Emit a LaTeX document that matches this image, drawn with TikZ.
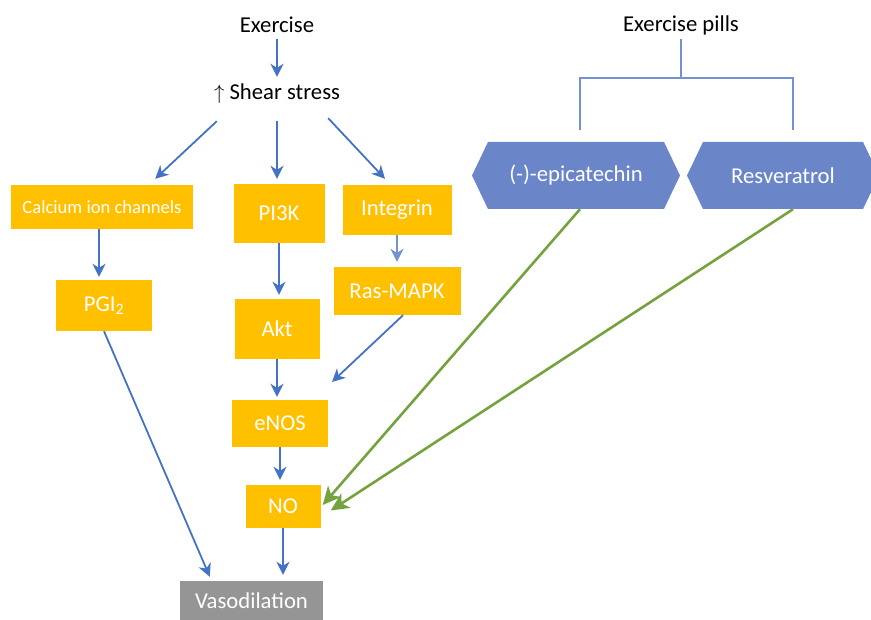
\documentclass[tikz,border=0pt]{standalone}
\usepackage{fontspec}
\setmainfont{Carlito}
\usetikzlibrary{arrows.meta, calc, shapes.symbols}
\definecolor{boxorange}{HTML}{FFC000}
\definecolor{arrowblue}{HTML}{4472C4}
\definecolor{bracketblue}{HTML}{7592D0}
\definecolor{pillfill}{HTML}{6A86C8}
\definecolor{pillgreen}{HTML}{74A33E}
\definecolor{vasogray}{HTML}{959595}
\tikzset{
    >={Stealth[length=13pt, width=13pt, inset=4pt]},
    flow/.style={->, draw=arrowblue, line width=1.8pt},
    pillflow/.style={draw=pillgreen, line width=2.6pt,
        -{Stealth[length=18pt, width=17pt, inset=5pt]}},
    bracket/.style={draw=bracketblue, line width=1.8pt},
    heading/.style={inner sep=0pt, minimum height=28pt, font=\fontsize{22.7}{26}\selectfont},
    stepbox/.style={fill=boxorange, text=white, inner sep=0pt, font=\fontsize{22.7}{26}\selectfont},
    smalltext/.style={font=\fontsize{18.6}{22}\selectfont},
    endbox/.style={stepbox, fill=vasogray},
    pillbox/.style={shape=signal, signal to=west and east, signal pointer angle=129,
        fill=pillfill, text=white, inner sep=0pt, minimum height=67pt,
        font=\fontsize{22.7}{26}\selectfont},
}
\begin{document}
\begin{tikzpicture}[x=1pt, y=-1pt]
    \useasboundingbox (0,0) rectangle (871,620);
    % exercise pathway
    \node[heading] (exercise) at (277,25) {Exercise};
    \node[heading, minimum height=54pt] (shear) at (277,94) {$\uparrow$ Shear stress};
    \node[stepbox, smalltext, minimum width=182pt, minimum height=44pt] (calcium) at (102,207) {Calcium ion channels};
    \node[stepbox, minimum width=91pt, minimum height=59pt] (pi3k) at (279,213.5) {PI3K};
    \node[stepbox, minimum width=109pt, minimum height=50pt] (integrin) at (397,210) {Integrin};
    \node[stepbox, minimum width=127pt, minimum height=48pt] (ras) at (397,291) {Ras-MAPK};
    \node[stepbox, minimum width=96pt, minimum height=51pt] (pgi) at (104,305.5) {PGI\textsubscript{2}};
    \node[stepbox, minimum width=85pt, minimum height=60pt] (akt) at (277,329) {Akt};
    \node[stepbox, minimum width=96pt, minimum height=47pt] (enos) at (280,423.5) {eNOS};
    \node[stepbox, minimum width=75pt, minimum height=43pt] (no) at (283,506.5) {NO};
    \node[endbox, minimum width=143pt, minimum height=40pt] (vaso) at (251.5,601) {Vasodilation};
    % exercise pills
    \node[heading] (pills) at (681,25) {Exercise pills};
    \node[pillbox, minimum width=208pt] (epi) at (576,175.5) {(-)-epicatechin};
    \node[pillbox, minimum width=192pt] (resv) at (783,175.5) {Resveratrol};
    \coordinate (brM) at (681,78);
    \coordinate (rasEnd) at (332,382);

    \draw[flow] (exercise.south) -- ($(exercise.south |- shear.north)+(0,10)$);
    \draw[flow] ($(shear.south west)+(3,0)$) -- ($(calcium.north east)+(-38,-6)$);
    \draw[flow] (shear.south) -- ($(shear.south |- pi3k.north)+(0,-5)$);
    \draw[flow] ($(shear.south east)+(-12,-3)$) -- ($(integrin.north)+(-12,-6)$);
    \draw[flow] ($(calcium.south)+(-3,0)$) -- ($(calcium.south |- pgi.north)+(-3,-3)$);
    \foreach \a/\b/\gap in {pi3k/akt/4, akt/enos/3, enos/no/5, no/vaso/6}
        \draw[flow] (\a.south) -- ($(\a.south |- \b.north)+(0,-\gap)$);
    \draw[flow, draw=bracketblue] (integrin.south) -- ($(integrin.south |- ras.north)+(0,-5)$);
    \draw[flow] ($(ras.south)+(6,0)$) -- (rasEnd);
    \draw[flow] (pgi.south) -- ($(vaso.north west)+(30,-4)$);

    \draw[bracket] (pills.south) -- (brM);
    \draw[bracket] ($(epi.north)+(4,-12)$) |- (brM) -| ($(resv.north)+(10,-12)$);
    \draw[pillflow] ($(epi.south)+(4,0)$) -- ($(no.east)+(2,-1.5)$);
    \draw[pillflow] ($(resv.south)+(10,0)$) -- ($(no.east)+(10,4)$);
\end{tikzpicture}
\end{document}
